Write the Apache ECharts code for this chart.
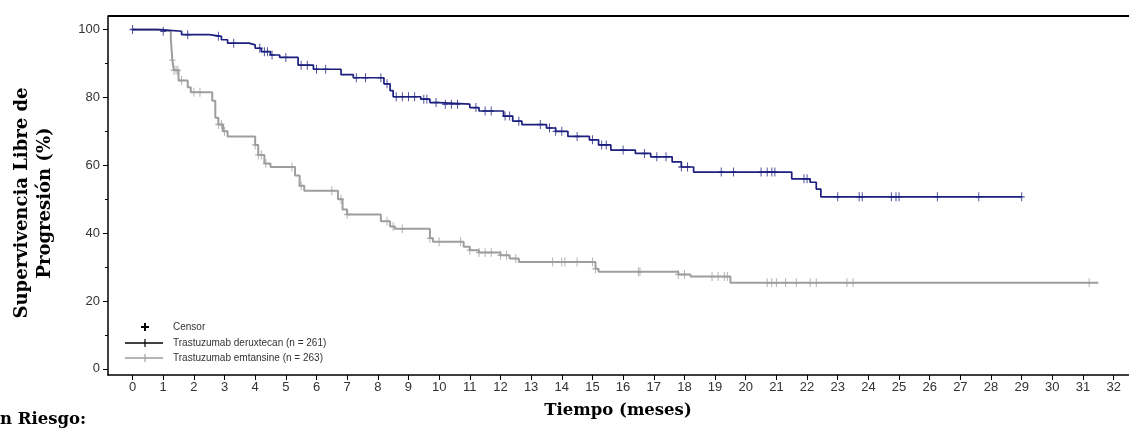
<!DOCTYPE html>
<html>
<head>
<meta charset="utf-8">
<script src="https://cdn.jsdelivr.net/npm/echarts@6/dist/echarts.min.js"></script>
<style>
html,body{margin:0;padding:0;background:#fff;}
#chart{width:1129px;height:430px;}
</style>
</head>
<body>
<div id="chart"></div>
<script>
// ---- Data ----
const xTickValues = [0,1,2,3,4,5,6,7,8,9,10,11,12,13,14,15,16,17,18,19,20,21,22,23,24,25,26,27,28,29,30,31,32];
const yTickValues = [0,20,40,60,80,100];
const yMinorTickValues = [10,30,50,70,90];

// Trastuzumab deruxtecan (step curve: time in months, PFS %)
const tdxdTime = [0,0.9,1.6,2.5,2.9,3.1,3.8,4.0,4.2,4.5,4.8,5.4,5.9,6.8,7.2,8.2,8.4,8.5,9.4,9.7,10.0,11.0,11.3,12.1,12.4,12.7,13.5,13.8,14.2,14.9,15.2,15.6,16.4,16.9,17.6,17.9,18.3,21.5,22.1,22.3,22.45,29.0];
const tdxdSurv = [100,99.5,98.5,98,97,96,95.5,94.5,93.5,92.5,91.8,89.5,88.3,86.7,85.8,84,82,80.2,79.5,78.5,78,77,76,74.5,73,72,71,70,68.5,67.5,66,64.5,63.5,62.5,61,59.5,58,56,55,53,50.7,50.7];
const tdxdCensor = [0,1.0,1.8,2.8,3.3,4.15,4.3,4.4,4.55,5.0,5.5,5.7,6.0,6.3,7.3,7.6,8.1,8.3,8.6,8.8,9.0,9.2,9.5,9.6,9.9,10.2,10.4,10.6,11.2,11.5,11.7,12.15,12.3,12.6,13.3,13.6,13.8,14.0,14.5,15.0,15.3,15.45,16.0,16.7,17.1,17.4,17.9,18.1,19.2,19.6,20.5,20.7,20.85,20.95,21.9,22.0,23.0,23.7,23.8,24.75,24.9,25.0,26.25,27.6,29.0];

// Trastuzumab emtansine
const tdmTime = [0,0.8,1.25,1.3,1.35,1.5,1.8,1.9,2.6,2.7,2.8,2.95,3.1,4.0,4.1,4.3,4.5,5.3,5.45,5.6,6.7,6.85,7.0,8.1,8.4,8.55,9.7,9.8,10.8,11.0,11.3,12.0,12.3,12.6,15.1,15.2,17.8,18.2,19.5,31.5];
const tdmSurv = [100,99.5,97,91,88,85,83,81.5,79,74,72,70,68.5,66,63,60.5,59.5,57,54,52.5,50,47,45.5,43.5,42,41.3,38.5,37.5,36,35,34.3,33.5,32.5,31.5,29.5,28.6,27.8,27.2,25.4,25.4];
const tdmCensor = [1.3,1.35,1.42,1.48,1.6,2.0,2.2,2.8,2.9,3.0,4.0,4.1,4.2,4.35,5.2,5.5,6.5,6.8,7.0,8.3,8.5,8.8,9.7,10.0,10.7,11.0,11.3,11.5,11.7,12.0,12.2,12.5,13.7,14.0,14.1,14.5,15.0,15.1,16.5,16.55,17.8,18.0,18.9,19.1,19.3,19.4,20.7,20.85,21.0,21.3,21.65,22.1,22.3,23.3,23.5,31.2];

const seriesNames = ['Trastuzumab deruxtecan (n = 261)','Trastuzumab emtansine (n = 263)'];

// ---- helpers ----
function stepPairs(t, s){ return t.map((v,i)=>[v,s[i]]); }
function survAt(t, s, x){ let v = s[0]; for (let i=0;i<t.length;i++){ if (t[i] <= x) v = s[i]; else break; } return v; }
function censorPairs(t, s, c){ return c.map(x=>[x, survAt(t,s,x)]); }

const BLUE = '#1c1f7e';
const GREY = '#9e9e9e';
const plus = 'path://M-0.16,-1 L0.16,-1 L0.16,-0.16 L1,-0.16 L1,0.16 L0.16,0.16 L0.16,1 L-0.16,1 L-0.16,0.16 L-1,0.16 L-1,-0.16 L-0.16,-0.16 Z';

const chart = echarts.init(document.getElementById('chart'), null, {renderer:'canvas'});
const axisFont = {fontFamily:'Liberation Sans, Arial, sans-serif', fontSize:13, color:'#333'};
const serifTitle = 'bold 18px "DejaVu Serif", serif';

chart.setOption({
  animation:false,
  grid:{left:108, top:16, right:0, bottom:55, containLabel:false},
  xAxis:{
    type:'value', min:-0.8, max:32.5,
    axisLine:{show:true, onZero:false, lineStyle:{color:'#000', width:1.5}},
    axisTick:{show:true, customValues:xTickValues, length:5, lineStyle:{color:'#000'}},
    axisLabel:{show:true, customValues:xTickValues, margin:6, ...axisFont},
    splitLine:{show:false}
  },
  yAxis:[{
    type:'value', min:-1.8, max:104,
    axisLine:{show:true, onZero:false, lineStyle:{color:'#000', width:1.5}},
    axisTick:{show:true, customValues:yTickValues, length:5, lineStyle:{color:'#000'}},
    axisLabel:{show:true, customValues:yTickValues, margin:8, ...axisFont},
    splitLine:{show:false}
  },{
    type:'value', min:-1.8, max:104, position:'left',
    axisLine:{show:false, onZero:false},
    axisTick:{show:true, customValues:yMinorTickValues, length:3, lineStyle:{color:'#000'}},
    axisLabel:{show:false},
    splitLine:{show:false}
  }],
  series:[
    {name:seriesNames[1], type:'line', step:'end', data:stepPairs(tdmTime,tdmSurv), showSymbol:false, lineStyle:{color:GREY, width:2}, z:2},
    {name:seriesNames[1]+' censor', type:'scatter', data:censorPairs(tdmTime,tdmSurv,tdmCensor), symbol:plus, symbolSize:[6,9], itemStyle:{color:GREY}, z:2},
    {name:seriesNames[0], type:'line', step:'end', data:stepPairs(tdxdTime,tdxdSurv), showSymbol:false, lineStyle:{color:BLUE, width:1.7}, z:3},
    {name:seriesNames[0]+' censor', type:'scatter', data:censorPairs(tdxdTime,tdxdSurv,tdxdCensor), symbol:plus, symbolSize:[6,9], itemStyle:{color:BLUE}, z:3}
  ],
  graphic:[
    {type:'line', shape:{x1:108, y1:16, x2:1129, y2:16}, style:{stroke:'#000', lineWidth:2}},
    {type:'text', x:22, y:203, rotation:Math.PI/2, style:{text:'Supervivencia Libre de', align:'center', verticalAlign:'middle', font:serifTitle, fill:'#000'}},
    {type:'text', x:45, y:203, rotation:Math.PI/2, style:{text:'Progresión (%)', align:'center', verticalAlign:'middle', font:serifTitle, fill:'#000'}},
    {type:'text', x:618, y:411, style:{text:'Tiempo (meses)', align:'center', verticalAlign:'middle', font:'bold 16.5px "DejaVu Serif", serif', fill:'#000'}},
    {type:'text', x:0, y:420, style:{text:'n Riesgo:', align:'left', verticalAlign:'middle', font:'bold 16.5px "DejaVu Serif", serif', fill:'#000'}},
    // legend
    {type:'polygon', shape:{points:[[144,323],[146,323],[146,326],[149,326],[149,328],[146,328],[146,331],[144,331],[144,328],[141,328],[141,326],[144,326]]}, style:{fill:'#000'}},
    {type:'text', x:173, y:327, style:{text:'Censor', verticalAlign:'middle', font:'10px "Liberation Sans", Arial, sans-serif', fill:'#333'}},
    {type:'line', shape:{x1:125, y1:343, x2:163, y2:343}, style:{stroke:'#000', lineWidth:1.6}},
    {type:'line', shape:{x1:145, y1:339, x2:145, y2:347}, style:{stroke:'#000', lineWidth:1.2}},
    {type:'text', x:173, y:343, style:{text:seriesNames[0], verticalAlign:'middle', font:'10px "Liberation Sans", Arial, sans-serif', fill:'#333'}},
    {type:'line', shape:{x1:125, y1:358, x2:163, y2:358}, style:{stroke:GREY, lineWidth:1.6}},
    {type:'line', shape:{x1:145, y1:354, x2:145, y2:362}, style:{stroke:GREY, lineWidth:1.2}},
    {type:'text', x:173, y:358, style:{text:seriesNames[1], verticalAlign:'middle', font:'10px "Liberation Sans", Arial, sans-serif', fill:'#333'}}
  ]
});
</script>
</body>
</html>
